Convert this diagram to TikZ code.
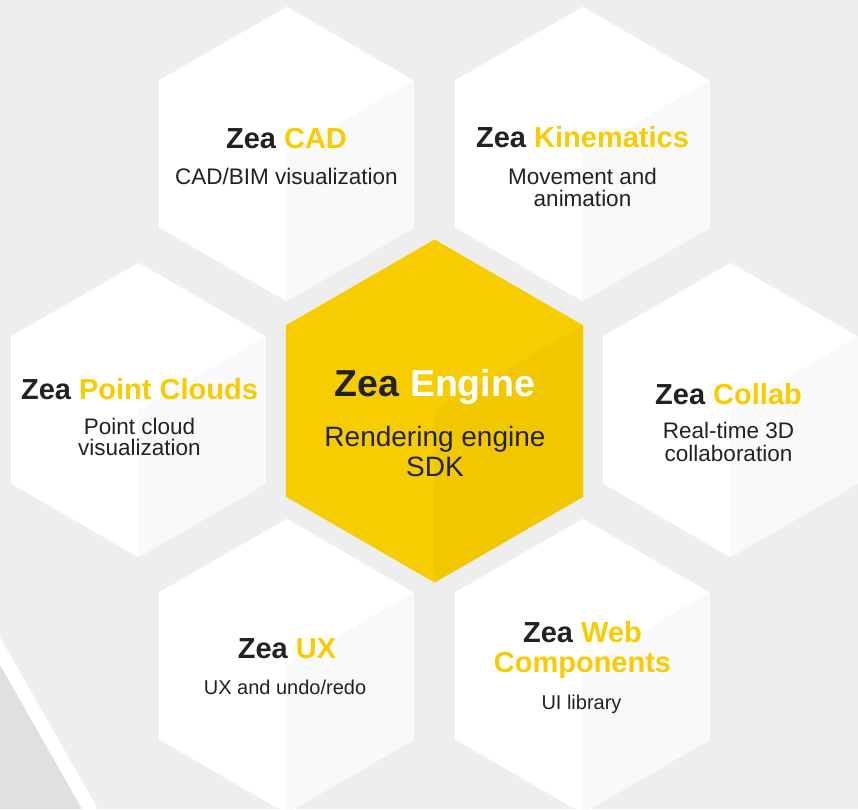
\documentclass[tikz,border=0pt]{standalone}
\usepackage{fontspec}
\setmainfont{Liberation Sans}
\definecolor{zbg}{HTML}{EEEEEE}
\definecolor{zband}{HTML}{E0E0E0}
\definecolor{zwhite}{HTML}{FFFFFF}
\definecolor{zshade}{HTML}{F9F9F9}
\definecolor{zeng}{HTML}{F7CC00}
\definecolor{zengshade}{HTML}{F1C800}
\definecolor{ztext}{HTML}{222222}
\definecolor{zy}{HTML}{FACC00}
\newcommand{\zhex}[5]{%
  \begin{scope}[shift={(#1,#2)}]
    \fill[#4] (90:#3) -- (150:#3) -- (210:#3) -- (270:#3) -- (330:#3) -- (30:#3) -- cycle;
    \fill[#5] (0,0) -- (-30:#3) -- (30:#3) -- (90:#3) -- cycle;
  \end{scope}}
\begin{document}
\begin{tikzpicture}[x=1pt,y=-1pt,
  ttl/.style={font=\fontsize{29}{34}\selectfont\bfseries, text=ztext, inner sep=0pt, anchor=base},
  bigttl/.style={font=\fontsize{37.5}{44}\selectfont\bfseries, text=ztext, inner sep=0pt, anchor=base},
  sub/.style={font=\fontsize{22.5}{27}\selectfont, text=ztext, inner sep=0pt, anchor=base},
  smallsub/.style={font=\fontsize{20}{24}\selectfont, text=ztext, inner sep=0pt, anchor=base},
  bigsub/.style={font=\fontsize{28}{33}\selectfont, text=ztext, inner sep=0pt, anchor=base}]
\useasboundingbox (0,0) rectangle (858,809);
\clip (0,0) rectangle (858,809);
\fill[zbg] (0,0) rectangle (858,809);
% diagonal band bottom-left
\fill[zwhite] (0,637) -- (98,809) -- (0,809) -- cycle;
\fill[zband] (0,665) -- (82,809) -- (0,809) -- cycle;
% hexagons
\zhex{286.5}{154}{147.2}{zwhite}{zshade}
\zhex{582.5}{154}{147.2}{zwhite}{zshade}
\zhex{138.5}{410}{147.2}{zwhite}{zshade}
\zhex{730.5}{410}{147.2}{zwhite}{zshade}
\zhex{286.5}{666}{147.2}{zwhite}{zshade}
\zhex{582.5}{666}{147.2}{zwhite}{zshade}
\zhex{434.5}{411}{171.5}{zeng}{zengshade}
% texts
\node[ttl] (cadT) at (286.5,148.3) {Zea \textcolor{zy}{CAD}};
\node[sub] (cadS) at (286.5,184) {CAD/BIM visualization};
\node[ttl] (kinT) at (582.5,147.3) {Zea \textcolor{zy}{Kinematics}};
\node[sub] (kinS1) at (582.5,184) {Movement and};
\node[sub] (kinS2) at (582.5,206.7) {animation};
\node[ttl] (pcT) at (139.5,399) {Zea \textcolor{zy}{Point Clouds}};
\node[sub] (pcS1) at (139.5,434) {Point cloud};
\node[sub] (pcS2) at (139.5,455.5) {visualization};
\node[bigttl] (engT) at (435,396.7) {Zea \textcolor{white}{Engine}};
\node[bigsub] (engS1) at (435,446.7) {Rendering engine};
\node[bigsub] (engS2) at (435,476) {SDK};
\node[ttl] (colT) at (728.5,404) {Zea \textcolor{zy}{Collab}};
\node[sub] (colS1) at (728.5,438.3) {Real-time 3D};
\node[sub] (colS2) at (728.5,461.7) {collaboration};
\node[ttl] (uxT) at (287,658.3) {Zea \textcolor{zy}{UX}};
\node[smallsub] (uxS) at (285,694) {UX and undo/redo};
\node[ttl] (webT) at (582.5,642.7) {Zea \textcolor{zy}{Web}};
\node[ttl, text=zy] (webT2) at (582.5,672.7) {Components};
\node[smallsub] (webS) at (581.5,709.3) {UI library};
\end{tikzpicture}
\end{document}
